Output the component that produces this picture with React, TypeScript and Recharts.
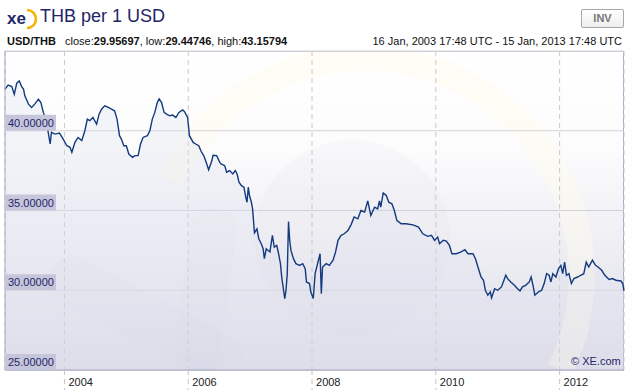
import React from "react";
import { AreaChart, Area, XAxis, YAxis, CartesianGrid } from "recharts";

const years = [
  2003.04, 2003.09, 2003.15, 2003.19, 2003.23, 2003.27, 2003.31, 2003.34, 2003.36, 2003.42,
  2003.47, 2003.52, 2003.58, 2003.62, 2003.66, 2003.71, 2003.77, 2003.79, 2003.85, 2003.92,
  2003.98, 2004.04, 2004.09, 2004.12, 2004.17, 2004.22, 2004.28, 2004.33, 2004.37, 2004.41,
  2004.46, 2004.52, 2004.56, 2004.6, 2004.65, 2004.71, 2004.76, 2004.81, 2004.85, 2004.89,
  2004.92, 2004.96, 2005.0, 2005.04, 2005.1, 2005.14, 2005.19, 2005.23, 2005.27, 2005.34,
  2005.38, 2005.42, 2005.46, 2005.5, 2005.53, 2005.57, 2005.61, 2005.65, 2005.7, 2005.75,
  2005.8, 2005.85, 2005.91, 2005.94, 2005.99, 2006.02, 2006.08, 2006.12, 2006.17, 2006.21,
  2006.25, 2006.29, 2006.33, 2006.38, 2006.4, 2006.46, 2006.51, 2006.53, 2006.59, 2006.62,
  2006.67, 2006.72, 2006.76, 2006.79, 2006.82, 2006.86, 2006.9, 2006.93, 2006.95, 2006.97,
  2006.99, 2007.02, 2007.04, 2007.07, 2007.11, 2007.14, 2007.18, 2007.21, 2007.23, 2007.26,
  2007.32, 2007.36, 2007.39, 2007.43, 2007.46, 2007.49, 2007.51, 2007.54, 2007.56, 2007.58,
  2007.6, 2007.62, 2007.64, 2007.66, 2007.7, 2007.74, 2007.8, 2007.85, 2007.89, 2007.91,
  2007.96, 2007.98, 2008.02, 2008.05, 2008.09, 2008.13, 2008.15, 2008.17, 2008.23, 2008.28,
  2008.34, 2008.38, 2008.42, 2008.47, 2008.52, 2008.58, 2008.63, 2008.68, 2008.74, 2008.79,
  2008.85, 2008.9, 2008.95, 2009.01, 2009.06, 2009.09, 2009.11, 2009.15, 2009.2, 2009.24,
  2009.29, 2009.33, 2009.37, 2009.44, 2009.52, 2009.63, 2009.72, 2009.79, 2009.87, 2009.93,
  2009.98, 2010.03, 2010.06, 2010.12, 2010.17, 2010.22, 2010.26, 2010.33, 2010.41, 2010.47,
  2010.52, 2010.6, 2010.64, 2010.68, 2010.73, 2010.77, 2010.8, 2010.84, 2010.88, 2010.9,
  2010.95, 2011.0, 2011.06, 2011.09, 2011.13, 2011.16, 2011.21, 2011.27, 2011.32, 2011.36,
  2011.4, 2011.45, 2011.51, 2011.54, 2011.57, 2011.6, 2011.66, 2011.71, 2011.75, 2011.79,
  2011.83, 2011.86, 2011.89, 2011.94, 2011.98, 2012.02, 2012.05, 2012.08, 2012.11, 2012.15,
  2012.19, 2012.23, 2012.29, 2012.34, 2012.39, 2012.43, 2012.47, 2012.53, 2012.58, 2012.62,
  2012.68, 2012.73, 2012.8, 2012.85, 2012.91, 2012.99, 2013.02, 2013.04,
];

const rates = [
  42.61, 42.86, 42.77, 42.29, 42.98, 43.12, 42.77, 42.6, 42.19, 41.67,
  41.46, 41.67, 41.98, 41.77, 41.15, 40.52, 39.17, 39.9, 39.79, 39.85,
  39.48, 39.06, 38.96, 38.65, 39.27, 39.58, 39.38, 40.0, 40.73, 40.63,
  40.83, 40.42, 41.04, 41.35, 41.56, 41.46, 41.35, 41.25, 40.73, 39.69,
  39.48, 39.06, 39.06, 38.54, 38.33, 38.44, 38.44, 39.17, 39.58, 39.69,
  40.0, 40.73, 41.15, 41.77, 42.0, 41.77, 41.15, 41.04, 40.94, 40.98,
  40.83, 41.15, 41.31, 41.19, 40.83, 39.69, 39.27, 39.17, 39.06, 38.7,
  38.44, 38.02, 37.55, 38.1, 38.46, 38.44, 38.02, 37.92, 37.81, 37.4,
  37.5, 37.29, 37.5, 37.29, 36.77, 36.56, 36.46, 35.83, 35.52, 36.46,
  35.94, 35.52, 35.1, 33.6, 33.85, 33.23, 32.92, 32.6, 31.98, 32.6,
  32.4, 33.44, 32.71, 32.81, 32.29, 31.67, 30.83, 30.0, 29.48, 30.0,
  31.04, 34.3, 33.1, 32.5, 31.98, 31.67, 31.56, 31.67, 31.35, 30.52,
  30.42, 29.9, 29.48, 31.04, 31.67, 32.29, 29.79, 31.46, 31.67, 31.56,
  31.88, 32.4, 33.13, 33.44, 33.54, 33.75, 34.1, 34.6, 34.48, 35.0,
  34.9, 35.6, 34.69, 35.21, 35.1, 35.6, 35.21, 36.1, 35.94, 35.52,
  35.42, 35.0, 34.38, 34.17, 34.17, 34.1, 33.96, 33.54, 33.38, 33.44,
  33.13, 33.33, 32.92, 33.13, 33.08, 32.81, 32.29, 32.29, 32.4, 32.54,
  32.29, 32.29, 31.98, 31.46, 30.83, 30.63, 30.0, 29.69, 29.9, 29.52,
  30.1, 30.0, 30.21, 30.52, 30.94, 30.73, 30.52, 30.31, 30.1, 29.96,
  30.21, 30.31, 30.52, 30.83, 30.31, 29.69, 29.9, 30.0, 30.42, 31.04,
  30.94, 30.52, 31.04, 30.83, 31.35, 31.56, 31.04, 31.77, 30.94, 31.04,
  30.42, 30.73, 30.83, 30.94, 31.04, 31.77, 31.46, 31.88, 31.56, 31.46,
  31.25, 30.94, 30.67, 30.73, 30.63, 30.58, 30.42, 29.96,
];

const yearTicks = [2004, 2006, 2008, 2010, 2012];
const rateTicks = [25, 30, 35, 40];

const data = years.map((t, i) => ({ t, v: rates[i] }));

const FONT = "'Liberation Sans', Arial, sans-serif";
const NAVY = "#143a7e";
const LABEL = "#25256a";

function RateTick(props: any) {
  const { y, payload } = props;
  const x = 5;
  return (
    <g>
      <rect x={x} y={y - 16} width={51} height={16} fill="#c6c6da" />
      <text x={x + 3} y={y - 4} fontSize={11} fill={LABEL} fontFamily={FONT}>
        {Number(payload.value).toFixed(5)}
      </text>
    </g>
  );
}

function YearTick(props: any) {
  const { x, y, payload } = props;
  return (
    <g>
      <line x1={x} x2={x} y1={y} y2={y + 20} stroke="#c4c4c4" strokeDasharray="5 4" />
      <text x={x + 4} y={y + 16} fontSize={11} fill="#222" fontFamily={FONT}>
        {payload.value}
      </text>
    </g>
  );
}

export default function App() {
  return (
    <div style={{ position: "absolute", left: 0, top: 0, width: 632, height: 390, background: "#fff", fontFamily: FONT, overflow: "hidden" }}>
      {/* header */}
      <svg width={36} height={28} style={{ position: "absolute", left: 4, top: 4 }}>
        <path d="M 23 6 A 9 9 0 0 1 23 24" fill="none" stroke="#f5b400" strokeWidth={2.6} />
        <text x={3} y={20} fontSize={17} fontWeight="bold" fill="#1d2766" fontFamily={FONT}>xe</text>
      </svg>
      <div style={{ position: "absolute", left: 40, top: 6, fontSize: 18, color: "#1f2568" }}>THB per 1 USD</div>
      <div style={{ position: "absolute", left: 581, top: 9, width: 41, height: 17, border: "1px solid #a8a8a8", borderRadius: 2, background: "linear-gradient(#ffffff, #eeeeee)", fontSize: 11, fontWeight: "bold", color: "#777", textAlign: "center", lineHeight: "17px" }}>INV</div>
      <div style={{ position: "absolute", left: 7, top: 35, fontSize: 11, color: "#111", whiteSpace: "pre" }}>
        <b>USD/THB</b>{"   close:"}<b>29.95697</b>{", low:"}<b>29.44746</b>{", high:"}<b>43.15794</b>
      </div>
      <div style={{ position: "absolute", right: 10, top: 35, fontSize: 11, color: "#111" }}>
        16 Jan, 2003 17:48 UTC - 15 Jan, 2013 17:48 UTC
      </div>

      {/* plot background and faint watermark */}
      <div style={{ position: "absolute", left: 5, top: 51, width: 618, height: 319, borderTop: "1px solid #cfcfd6", borderRight: "1px solid #aaaaca", background: "linear-gradient(#ffffff 0%, #fcfcfd 30%, #dcdce8 100%)" }} />
      <svg width={632} height={390} style={{ position: "absolute", left: 0, top: 0 }}>
        <defs>
          <clipPath id="plotClip">
            <rect x={5} y={52} width={619} height={318} />
          </clipPath>
        </defs>
        <g clipPath="url(#plotClip)">
          <path d="M 170 180 A 210 210 0 0 1 560 370" fill="none" stroke="#fffbea" strokeWidth={26} opacity={0.45} />
          <circle cx={352} cy={238} r={98} fill="#c8c8dc" opacity={0.08} />
          <rect x={40} y={295} width={210} height={48} rx={20} fill="#c8c8dc" opacity={0.08} transform="rotate(28 145 319)" />
          <rect x={120} y={270} width={170} height={46} rx={20} fill="#c8c8dc" opacity={0.08} transform="rotate(-82 205 293)" />
        </g>
      </svg>

      <div style={{ position: "absolute", left: 0, top: 0 }}>
        <AreaChart width={632} height={390} data={data} margin={{ top: 51, right: 8, left: 5, bottom: 0 }}>
          <CartesianGrid horizontal={false} strokeDasharray="5 4" stroke="#c8c8c8" />
          <CartesianGrid vertical={false} stroke="#d2d2da" />
          <XAxis
            dataKey="t"
            type="number"
            domain={[2003.04, 2013.04]}
            ticks={yearTicks}
            height={20}
            tick={<YearTick />}
            tickLine={false}
            tickSize={0}
            tickMargin={0}
            axisLine={{ stroke: "#a8a8c6" }}
          />
          <YAxis
            type="number"
            domain={[25, 45]}
            ticks={rateTicks}
            mirror
            width={60}
            tick={<RateTick />}
            tickLine={false}
            tickSize={0}
            tickMargin={0}
            axisLine={{ stroke: "#a8a8c6" }}
          />
          <Area
            type="linear"
            dataKey="v"
            stroke={NAVY}
            strokeWidth={1.4}
            fill="#dde0f0"
            fillOpacity={0.3}
            dot={false}
            isAnimationActive={false}
          />
        </AreaChart>
      </div>
      <div style={{ position: "absolute", left: 571, top: 355, fontSize: 11, color: LABEL }}>© XE.com</div>
    </div>
  );
}
